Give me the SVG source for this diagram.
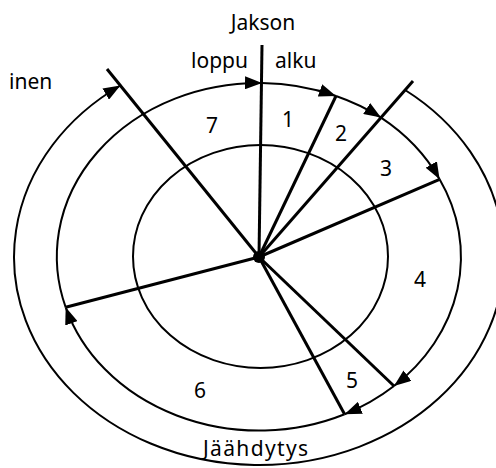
<svg xmlns="http://www.w3.org/2000/svg" width="496" height="468" viewBox="0 0 496 468">
<style>
.ring{fill:none;stroke:#000;stroke-width:2}
.arc{fill:none;stroke:#000;stroke-width:2;marker-end:url(#ah)}
.ray{stroke:#000;stroke-width:3;stroke-linecap:butt}
.t{font-family:"Noto Sans","Open Sans","DejaVu Sans",sans-serif;font-size:21px;fill:#000}
</style>
<defs>
<marker id="ah" markerUnits="userSpaceOnUse" markerWidth="19" markerHeight="13" refX="17" refY="6.5" orient="auto">
<path d="M0,0 L17,6.5 L0,13 z" fill="#000"/>
</marker>
</defs>
<rect width="496" height="468" fill="#fff"/>
<g id="inner-ring">
<ellipse class="ring" cx="260.5" cy="256.5" rx="127.5" ry="111.5"/>
</g>
<g id="connectors">
<path class="arc" d="M65.7,307.3 A202,173.5 0 0 1 262,83"/>
<path class="arc" d="M262,83 A202,173.5 0 0 1 336,96"/>
<path class="arc" d="M336,96 A202,173.5 0 0 1 381,117.6"/>
<path class="arc" d="M381,117.6 A202,173.5 0 0 1 439.6,179.3"/>
<path class="arc" d="M439.6,179.3 A202,173.5 0 0 1 394,386"/>
<path class="arc" d="M394,386 A202,173.5 0 0 1 344.6,414.2"/>
<path class="arc" d="M344.6,414.2 A202,173.5 0 0 1 65.7,307.3"/>
<path class="arc" d="M405.1,90 A245,208 0 1 1 120.4,85.5"/>
<line class="ray" x1="259" y1="257" x2="262" y2="45"/>
<line class="ray" x1="259" y1="257" x2="336" y2="96"/>
<line class="ray" x1="259" y1="257" x2="413" y2="81"/>
<line class="ray" x1="259" y1="257" x2="439.6" y2="179.3"/>
<line class="ray" x1="259" y1="257" x2="394" y2="386"/>
<line class="ray" x1="259" y1="257" x2="344.6" y2="414.2"/>
<line class="ray" x1="259" y1="257" x2="65.7" y2="307.3"/>
<line class="ray" x1="259" y1="257" x2="107" y2="69"/>
<circle cx="259" cy="257" r="6" fill="#000"/>
</g>
<g id="labels">
<text class="t" x="263" y="30" text-anchor="middle">Jakson</text>
<text class="t" x="248" y="68" text-anchor="end">loppu</text>
<text class="t" x="275" y="68">alku</text>
<text class="t" x="9" y="89">inen</text>
<text class="t" x="212" y="133" text-anchor="middle">7</text>
<text class="t" x="288" y="127" text-anchor="middle">1</text>
<text class="t" x="341" y="141" text-anchor="middle">2</text>
<text class="t" x="386" y="176" text-anchor="middle">3</text>
<text class="t" x="420" y="287" text-anchor="middle">4</text>
<text class="t" x="352" y="388" text-anchor="middle">5</text>
<text class="t" x="200" y="398" text-anchor="middle">6</text>
<text class="t" x="203" y="456" textLength="105">Jäähdytys</text>
</g>
</svg>
